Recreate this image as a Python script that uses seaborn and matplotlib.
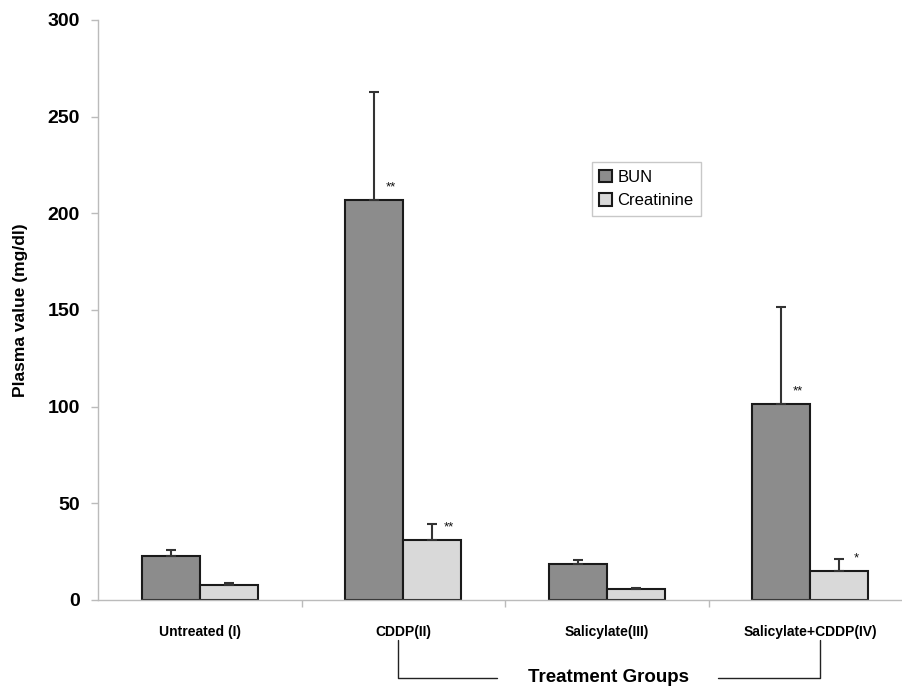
import pandas as pd
import seaborn as sns
import matplotlib.pyplot as plt
from matplotlib.lines import Line2D

# Datos
grupos = ['Untreated (I)', 'CDDP(II)', 'Salicylate(III)', 'Salicylate+CDDP(IV)']
bun = [22.7, 206.9, 18.6, 101.4]
bun_err = [3.1, 56.0, 2.1, 50.0]
creat = [7.8, 31.0, 5.7, 15.0]
creat_err = [1.0, 8.3, 0.5, 6.2]
sig_bun = ['', '**', '', '**']
sig_creat = ['', '**', '', '*']

df = pd.DataFrame({
    'grupo': grupos * 2,
    'valor': bun + creat,
    'serie': ['BUN'] * 4 + ['Creatinine'] * 4,
})

sns.set_style('white')
plt.rcParams['font.family'] = ['Liberation Sans', 'DejaVu Sans']
plt.rcParams['text.color'] = 'black'
plt.rcParams['axes.labelcolor'] = 'black'
plt.rcParams['xtick.labelcolor'] = 'black'
plt.rcParams['ytick.labelcolor'] = 'black'

fig = plt.figure(figsize=(9.02, 6.9), dpi=100)
ax = fig.add_axes([98 / 902, 90 / 690, 804 / 902, 580 / 690])

sns.barplot(data=df, x='grupo', y='valor', hue='serie', order=grupos,
            palette=['#8c8c8c', '#d9d9d9'], saturation=1, width=0.57,
            edgecolor='#1a1a1a', linewidth=1.5, errorbar=None, ax=ax)

# Barras de error (solo hacia arriba) y asteriscos
for cont, vals, errs, sigs in zip(ax.containers, [bun, creat],
                                  [bun_err, creat_err], [sig_bun, sig_creat]):
    xs = [p.get_x() + p.get_width() / 2 for p in cont.patches]
    ax.errorbar(xs, vals, yerr=[[0] * 4, errs], fmt='none', ecolor='#333333',
                elinewidth=1.5, capsize=3.3, capthick=1.5, zorder=1)
    for x, v, s in zip(xs, vals, sigs):
        if s:
            ax.annotate(s, (x, v), xytext=(12, 9), textcoords='offset points',
                        ha='center', va='center', fontsize=9.5, color='#111111')

ax.set_ylim(0, 300)
ax.set_yticks(range(0, 301, 50))
ax.set_xlim(-0.5, 3.45)
ax.set_xlabel('')
ax.set_ylabel('Plasma value (mg/dl)', fontsize=12.5, fontweight='bold', labelpad=14)

for lab in ax.get_yticklabels():
    lab.set_fontweight('bold')
    lab.set_fontsize(14)
for lab in ax.get_xticklabels():
    lab.set_fontweight('bold')
    lab.set_fontsize(10)

ax.tick_params(axis='y', length=5, width=1, color='#bbbbbb', pad=8, left=True)
ax.tick_params(axis='x', which='major', length=0, pad=18)
ax.set_xticks([0.5, 1.5, 2.5], minor=True)
ax.tick_params(axis='x', which='minor', length=5, width=1, color='#bbbbbb', bottom=True)

sns.despine(ax=ax)
for s in ['left', 'bottom']:
    ax.spines[s].set_color('#bbbbbb')
    ax.spines[s].set_linewidth(1)

leg = ax.legend(loc='upper left', bbox_to_anchor=(0.614, 0.755), frameon=True,
                fancybox=False, fontsize=12, handlelength=0.8, handleheight=0.8,
                handletextpad=0.3, borderpad=0.45, labelspacing=0.5,
                borderaxespad=0)
leg.get_frame().set_edgecolor('#bbbbbb')
leg.get_frame().set_linewidth(1)

# Titulo del eje x con corchete
fig.text(608 / 902, 1 - 677 / 690, 'Treatment Groups', ha='center', va='center',
         fontsize=13.5, fontweight='bold')
H = 690
for xs_, ys_ in [([398, 398, 497], [640, 678, 678]),
                 ([718, 820, 820], [678, 678, 640])]:
    fig.add_artist(Line2D([x / 902 for x in xs_], [1 - y / H for y in ys_],
                          color='#222222', linewidth=1))

plt.savefig('out.png', dpi=100)
